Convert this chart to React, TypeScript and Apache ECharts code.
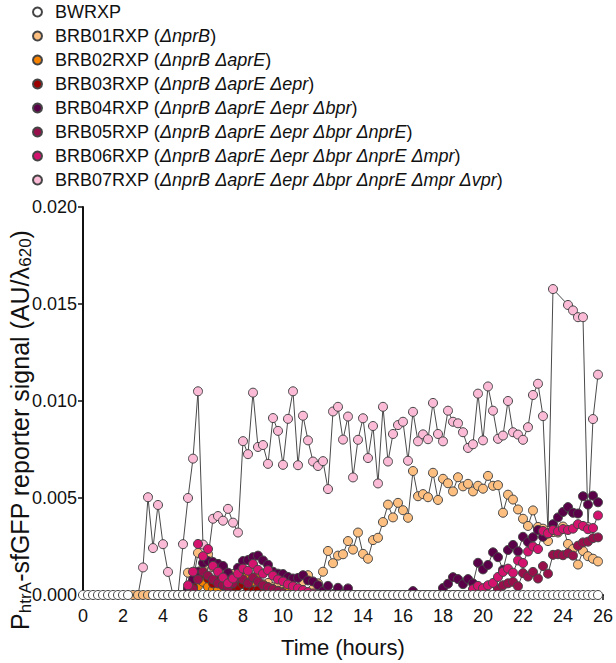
import React, { useEffect, useRef } from "react";
import * as echarts from "echarts";

// Sampling interval of the plate reader (hours)
const STEP_H = 0.25;

const SERIES_NAMES = [
  "BWRXP",
  "BRB01RXP",
  "BRB02RXP",
  "BRB03RXP",
  "BRB04RXP",
  "BRB05RXP",
  "BRB06RXP",
  "BRB07RXP",
];
const GENOTYPES = [
  "",
  "ΔnprB",
  "ΔnprB ΔaprE",
  "ΔnprB ΔaprE Δepr",
  "ΔnprB ΔaprE Δepr Δbpr",
  "ΔnprB ΔaprE Δepr Δbpr ΔnprE",
  "ΔnprB ΔaprE Δepr Δbpr ΔnprE Δmpr",
  "ΔnprB ΔaprE Δepr Δbpr ΔnprE Δmpr Δvpr",
];
const COLORS = ["#ffffff", "#fdbf80", "#f78200", "#9c0000", "#5a0049", "#98104b", "#d4136f", "#fbbad6"];

// start hour of each series
const STARTS = [0, 2.5, 5.0, 5.25, 5.0, 5.25, 5.0, 2.75];

const BWRXP = [
  0, 0, 0, 0, 0, 0, 0, 0, 0, 0, null, null, null, null, 0, 0, 0, 0, 0, 0,
  0, 0, 0, 0, 0, 0, 0, 0, 0, 0, 0, 0, 0, 0, 0, 0, 0, 0, 0, 0,
  0, 0, 0, 0, 0, 0, 0, 0, 0, 0, 0, 0, 0, 0, 0, 0, 0, 0, 0, 0,
  0, 0, 0, 0, 0, 0, 0, 0, 0, 0, 0, 0, 0, 0, 0, 0, 0, 0, 0, 0,
  0, 0, 0, 0, 0, 0, 0, 0, 0, 0, 0, 0, 0, 0, 0, 0, 0, 0, 0, 0,
  0, 0, 0, 0,
];
const BRB01 = [
  0, 0, 0, 0, 0, 0, 0, 0, 0, 0,
  0, 0.00115, 0.00068, 0.00217, 0.00135, 0.0021, 0.00143, 0.0016, 0.0014, 0.00082, 0.00108, 0.00078,
  0.0009, 0.00084, 0.0007, 0.00052, 0.00028, 0.00062, 0.0004, 0.00046, 0.0003, 0.00034, 0.00024, 0.0003,
  0.00071, 0.00102, 0.0003, 0.0006, 0.0012, 0.00227, 0.00164, 0.00203, 0.0021, 0.00278, 0.00234, 0.00322,
  0.00212, 0.00187, 0.00283, 0.00295, 0.00376, 0.00466, 0.004, 0.00475, 0.00437, 0.00398, 0.00639, 0.00509,
  0.0052, 0.00504, 0.0063, 0.0049, 0.00599, 0.00576, 0.00534, 0.00607, 0.0056, 0.00573, 0.00534, 0.00563,
  0.00548, 0.00614, 0.00563, 0.00566, 0.00424, 0.00517, 0.00492, 0.00441, 0.00393, 0.00356, 0.00436, 0.00351,
  0.00342, 0.00278, 0.00324, 0.00322, 0.00353, 0.00263, 0.00237, 0.00157, 0.00227, 0.002, 0.00187, 0.00173,
];
const BRB02 = [
  0, 0.00036, 0.0007, 0.00045, 0.00068, 0.00042, 0.00028, 0.0003, 0.0008, 0.0006, 0.0004, 0.0007,
  0.00088, 0.00105, 0.0007, 0.00105, 0.00055, 0.0004, 0.0003, 0.00022, 0.00015, 0.0003, 0.00034, 0.0002,
  0.0001, 0,
];
const BRB03 = [
  0, 0.0004, 0.0009, 0.0011, 0.00085, 0.0006, 0.00075, 0.0005, 0.0004, 0.0003, 0.00045,
  0.00055, 0.00035, 0.0002, 0.00025, 0.0001, 0,
];
const BRB04 = [
  0, 0.0003, 0.0008, 0.0012, 0.00165, 0.00175, 0.0017, 0.0016, 0.0015, 0.00115, 0.0009, 0.0014,
  0.00175, 0.0018, 0.00195, 0.00203, 0.00178, 0.00156, 0.0012, 0.0011, 0.00108, 0.00093, 0.00085, 0.00088,
  0.00102, 0.00075, 0.0007, 0.0005, 0.0002, 0.00047, 0.00005, 0.00037, 0.00005, 0.00034, 0, 0,
  0, 0, 0, 0, 0, 0, 0, 0, 0, 0, 0.0002, 0,
  0, 0, 0, 0, 0.00036, 0.00058, 0.00092, 0.00082, 0.00056, 0.00082, 0.0006, 0.00166,
  0.00132, 0.00155, 0.0022, 0.00195, 0.0013, 0.00232, 0.00258, 0.00225, 0.003, 0.00273, 0.00298, 0.00335,
  0.003, 0.00317, 0.00365, 0.004, 0.00428, 0.00453, 0.00424, 0.0042, 0.00509, 0.00466, 0.00512, 0.00478,
];
const BRB05 = [
  0, 0.0003, 0.0008, 0.0012, 0.001, 0.0008, 0.0006, 0.0005, 0.0004, 0.0006, 0.0009,
  0.0008, 0.0006, 0.0009, 0.0007, 0.0005, 0.0004, 0.0003, 0.0002, 0.0001, 0, 0, 0,
  0, 0, 0, 0, 0, 0, 0, 0, 0, 0, 0, 0,
  0, 0, 0, 0, 0, 0, 0, 0, 0, 0, 0, 0,
  0, 0, 0, 0, 0, 0, 0, 0, 0, 0, 0, 0,
  0, 0, 0, 0.0003, 0.0005, 0.0006, 0.00068, 0.00045, 0.00113, 0.00095, 0.00119, 0.00085,
  0.00149, 0.0011, 0.00207, 0.0021, 0.00205, 0.00215, 0.00203, 0.00254, 0.00271, 0.00275, 0.00293, 0.00297,
];
const BRB06 = [
  0, 0.0005, 0.0012, 0.00263, 0.002, 0.00237, 0.0015, 0.0012, 0.0009, 0.0006, 0.00085, 0.0011,
  0.00136, 0.00125, 0.0016, 0.0013, 0.0011, 0.00128, 0.001, 0.0008, 0.0007, 0.00055, 0.00045, 0.00035,
  0.00025, 0.00015, 0.00008, 0, 0, 0, 0, 0, 0, 0, 0, 0,
  0, 0, 0, 0, 0, 0, 0, 0, 0, 0, 0, 0,
  0, 0, 0, 0, 0, 0, 0, 0, 0, 0, 0.0003, 0.00047,
  0.00035, 0.0005, 0.00062, 0.00093, 0.00119, 0.00136, 0.00115, 0.00178, 0.00165, 0.00224, 0.0025, 0.00237,
  0.0033, 0.00318, 0.00335, 0.00328, 0.0034, 0.00335, 0.00342, 0.00365, 0.00356, 0.00339, 0.00345, 0.0041,
];
const BRB07 = [
  0, 0.00142, 0.00504, 0.00242, 0.00464, 0.00262, 0.00119, 0, 0,
  0.00262, 0.005, 0.00703, 0.0105, 0.0026, 0.0019, 0.00393, 0.00407, 0.00383, 0.00444, 0.00373, 0.00322,
  0.00793, 0.00726, 0.01043, 0.00763, 0.00773, 0.00676, 0.00912, 0.00846, 0.00671, 0.00908, 0.0105, 0.00669,
  0.00924, 0.00797, 0.00688, 0.00665, 0.0069, 0.00546, 0.00946, 0.0097, 0.00801, 0.0092, 0.00606, 0.008,
  0.00911, 0.00706, 0.00871, 0.00575, 0.0097, 0.00688, 0.0083, 0.00876, 0.00893, 0.00692, 0.00944, 0.00792,
  0.00828, 0.00803, 0.0099, 0.0083, 0.00792, 0.0095, 0.00893, 0.00885, 0.00839, 0.00758, 0.00777, 0.01038,
  0.00797, 0.01075, 0.0095, 0.00805, 0.00822, 0.01, 0.00839, 0.00827, 0.008, 0.00865, 0.01031, 0.01089,
  0.00922, 0.0033, 0.01577, null, null, 0.01495, 0.01467, 0.01432, 0.01432, 0.0035, 0.00907, 0.01136,
];
const VALUES = [BWRXP, BRB01, BRB02, BRB03, BRB04, BRB05, BRB06, BRB07];

const X_MIN = 0;
const X_MAX = 26;
const X_INTERVAL = 2;
const Y_MIN = 0;
const Y_MAX = 0.02;
const Y_INTERVAL = 0.005;

const FONT = "'Liberation Sans', Arial, Helvetica, sans-serif";

// drawing order: pink first (bottom) ... white baseline last (top)
const DRAW_ORDER = [7, 1, 2, 3, 4, 5, 6, 0];

export default function App() {
  const ref = useRef<HTMLDivElement>(null);
  useEffect(() => {
    if (!ref.current) return;
    const chart = echarts.init(ref.current, undefined, { renderer: "svg" });

    const series = DRAW_ORDER.map((k) => ({
      name: SERIES_NAMES[k],
      type: "line",
      data: VALUES[k].map((v, i) => [STARTS[k] + i * STEP_H, v]),
      symbol: "circle",
      symbolSize: 9,
      connectNulls: k === 7,
      itemStyle: { color: COLORS[k], borderColor: "#454545", borderWidth: 1 },
      lineStyle: { color: "#4a4a4a", width: 1 },
      emphasis: { disabled: true },
      silent: true,
      z: 2,
    }));

    const legendText: Record<string, string> = {};
    SERIES_NAMES.forEach((n, k) => {
      legendText[n] = GENOTYPES[k] ? `${n} ({i|${GENOTYPES[k]}})` : n;
    });

    chart.setOption({
      animation: false,
      backgroundColor: "#ffffff",
      grid: { left: 83, right: 11, top: 207, bottom: 62, containLabel: false },
      legend: {
        data: SERIES_NAMES,
        orient: "vertical",
        left: 32,
        top: 2,
        padding: 0,
        itemGap: 4,
        itemWidth: 25,
        itemHeight: 9,
        icon: "circle",
        selectedMode: false,
        formatter: (name: string) => legendText[name],
        textStyle: {
          fontFamily: FONT,
          fontSize: 18,
          color: "#111",
          lineHeight: 20,
          rich: {
            i: { fontFamily: FONT, fontSize: 18, fontStyle: "italic", color: "#111", lineHeight: 20 },
          },
        },
      },
      xAxis: {
        type: "value",
        min: X_MIN,
        max: X_MAX,
        interval: X_INTERVAL,
        name: "Time (hours)",
        nameLocation: "middle",
        nameGap: 41,
        nameTextStyle: { fontFamily: FONT, fontSize: 22, color: "#111" },
        axisLine: { show: true, lineStyle: { color: "#111", width: 2 } },
        axisTick: { show: true, length: 5, lineStyle: { color: "#111", width: 1.5 } },
        axisLabel: { fontFamily: FONT, fontSize: 18, color: "#111", margin: 12 },
        splitLine: { show: false },
      },
      yAxis: {
        type: "value",
        min: Y_MIN,
        max: Y_MAX,
        interval: Y_INTERVAL,
        axisLine: { show: true, lineStyle: { color: "#111", width: 2 } },
        axisTick: { show: true, length: 5, lineStyle: { color: "#111", width: 1.5 } },
        axisLabel: {
          fontFamily: FONT,
          fontSize: 18,
          color: "#111",
          margin: 6,
          formatter: (v: number) => v.toFixed(3),
        },
        splitLine: { show: false },
      },
      graphic: [
        {
          type: "text",
          x: 20,
          y: 430,
          rotation: Math.PI / 2,
          style: {
            text: "{a|P}{s|htrA}{a|-sfGFP reporter signal (AU/λ}{s|620}{a|)}",
            align: "center",
            verticalAlign: "middle",
            fill: "#111",
            rich: {
              a: { fontFamily: FONT, fontSize: 25, fill: "#111", lineHeight: 28, verticalAlign: "middle" },
              s: { fontFamily: FONT, fontSize: 17, fill: "#111", lineHeight: 28, verticalAlign: "bottom", padding: [10, 0, 0, 0] },
            },
          },
        },
      ],
      series,
    });

    return () => chart.dispose();
  }, []);

  return (
    <div
      ref={ref}
      style={{ position: "fixed", left: 0, top: 0, width: 616, height: 663 }}
    />
  );
}
